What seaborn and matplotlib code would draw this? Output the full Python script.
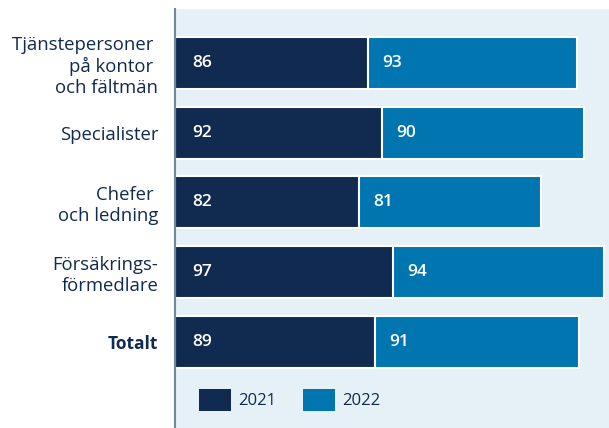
import matplotlib

matplotlib.use("Agg")
import matplotlib.pyplot as plt
import pandas as pd
import seaborn as sns
from matplotlib.patches import Patch

# Data
categories = [
    "Tjänstepersoner \npå kontor \noch fältmän",
    "Specialister",
    "Chefer \noch ledning",
    "Försäkrings-\nförmedlare",
    "Totalt",
]
values_2021 = [86, 92, 82, 97, 89]
values_2022 = [93, 90, 81, 94, 91]
years = ["2021", "2022"]

navy = "#112a4f"
blue = "#0075b0"
bg = "#e5f0f7"

sns.set_theme(style="white")
plt.rcParams["font.family"] = ["Open Sans", "DejaVu Sans"]

df = pd.DataFrame({"kat": categories, "v2021": values_2021, "v2022": values_2022})
df["total"] = df["v2021"] + df["v2022"]

fig = plt.figure(figsize=(6.09, 4.28), dpi=100)
ax = fig.add_axes([175 / 609, 0, 434 / 609, 419 / 428])
ax.set_facecolor(bg)

# stapla: totalen i blått, 2021 ovanpå i mörkblått
sns.barplot(data=df, x="total", y="kat", orient="h", color=blue, saturation=1,
            width=0.745, edgecolor="white", linewidth=1.5, ax=ax)
sns.barplot(data=df, x="v2021", y="kat", orient="h", color=navy, saturation=1,
            width=0.745, edgecolor="white", linewidth=1.5, ax=ax)

for i, (a, b) in enumerate(zip(values_2021, values_2022)):
    ax.text(7.5, i, str(a), color="white", fontsize=12.5, fontweight="semibold",
            ha="left", va="center")
    ax.text(a + 6.5, i, str(b), color="white", fontsize=12.5, fontweight="semibold",
            ha="left", va="center")

ax.set_xlim(0, 193.3)
ax.set_ylim(5.23, -0.77)
ax.set_xlabel("")
ax.set_ylabel("")
ax.set_xticks([])
ax.tick_params(axis="y", length=0, pad=12, labelsize=13.3, labelcolor=navy)
for lbl in ax.get_yticklabels():
    lbl.set_linespacing(1.2)
    if lbl.get_text() == "Totalt":
        lbl.set_fontweight("bold")
        lbl.set_fontsize(12.5)

for side in ["top", "right", "bottom"]:
    ax.spines[side].set_visible(False)
ax.spines["left"].set_color("#6f88a2")
ax.spines["left"].set_linewidth(1.5)

handles = [Patch(facecolor=navy, edgecolor="none"), Patch(facecolor=blue, edgecolor="none")]
ax.legend(handles, years, loc="center left", bbox_to_anchor=(0.055, 0.067),
          frameon=False, fontsize=12, labelcolor=navy, ncol=2, borderpad=0,
          borderaxespad=0, handlelength=1.95, handleheight=1.6, handletextpad=0.4,
          columnspacing=1.6)

fig.savefig("out.png", dpi=100)
